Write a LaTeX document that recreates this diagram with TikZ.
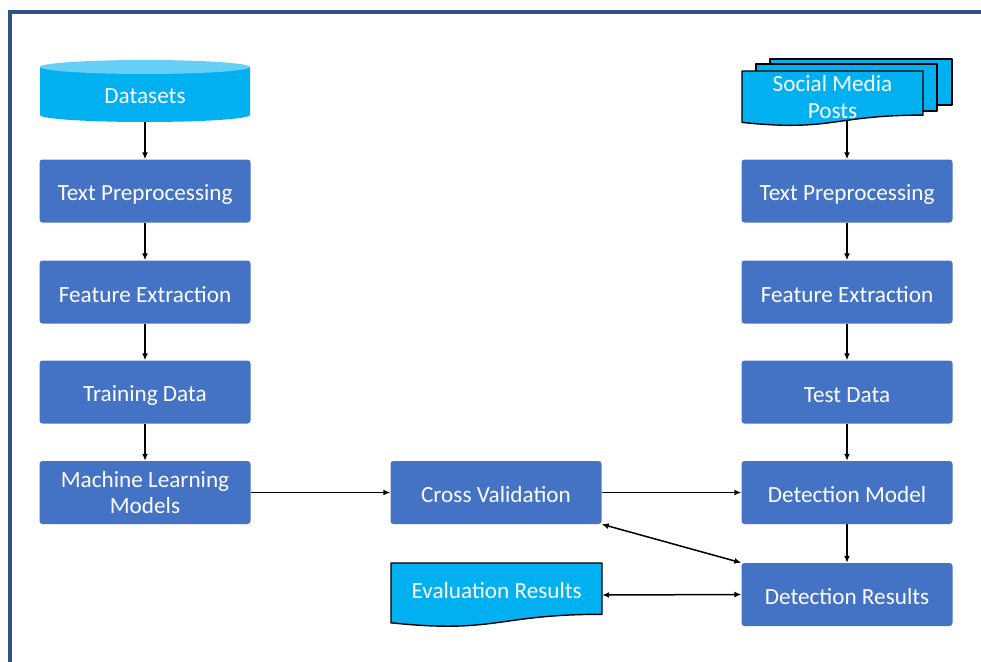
\documentclass[tikz,border=0pt]{standalone}
\usepackage{fontspec}
\setmainfont{Carlito}
\usetikzlibrary{arrows.meta,calc}
\definecolor{boxblue}{HTML}{4472C4}
\definecolor{cyanfill}{HTML}{00B0F0}
\definecolor{cyantop}{HTML}{66CFF5}
\definecolor{frameblue}{HTML}{2E5188}
\begin{document}
\begin{tikzpicture}[x=1pt,y=-1pt,
  txt/.style={text=white, inner sep=0pt, align=center,
    font=\fontsize{23.2}{26.5}\selectfont,
    execute at begin node={\rule{0pt}{23pt}},
    execute at end node={\rule[-3pt]{0pt}{3pt}}},
  procbox/.style={txt, rectangle, rounded corners=3pt, fill=boxblue,
    minimum width=211pt, minimum height=63pt},
  lbl/.style={txt},
  frame/.style={rectangle, inner sep=0pt},
  conn/.style={-{Latex[length=7pt,width=6pt]}, line width=1.5pt},
  dconn/.style={{Latex[length=7pt,width=6pt]}-{Latex[length=7pt,width=6pt]}, line width=1.5pt},
  docline/.style={fill=cyanfill, draw=black, line width=1.4pt, line join=round}
]
\useasboundingbox (0,0) rectangle (981,661);
\fill[white] (0,0) rectangle (981,661);
\draw[frameblue, line width=4pt] (10,700) -- (10,12) -- (1000,12);

% Datasets cylinder
\fill[cyanfill] (40,67) -- (40,115) arc[start angle=180, end angle=360, x radius=105pt, y radius=7pt] -- (250,67) -- cycle;
\fill[cyantop] (145,67) ellipse[x radius=105pt, y radius=7pt];
\node[frame, minimum width=210pt, minimum height=62pt] (ds) at (145,91) {};
\node[lbl] (dslbl) at (145,93.5) {Datasets};

% Social media posts (multi-document)
\draw[docline] (770,59) rectangle (952,105);
\draw[docline] (756,64) rectangle (937,111);
\draw[docline] (742,71) -- (923,71) -- (923,115.1)
  .. controls (832.5,115.1) and (832.5,131.9) .. (742,122.4) -- cycle;
\node[lbl] (smp) at (832.5,98.5) {Social Media\\Posts};
\coordinate (smpout) at (847,120.5);

% Evaluation results (document)
\draw[docline] (391,563) -- (602,563) -- (602,614.3)
  .. controls (496.5,614.3) and (496.5,633.9) .. (391,622.8) -- cycle;
\node[frame, minimum width=211pt, minimum height=64pt] (eval) at (496.5,595) {};
\node[lbl] (evallbl) at (496.7,588.5) {Evaluation Results};

% Process boxes
\node[procbox] (tp1) at (145,191) {Text Preprocessing};
\node[procbox] (fe1) at (145,292) {Feature Extraction};
\node[procbox] (trd) at (145,392) {Training Data};
\node[procbox, text depth=0pt] (ml)  at (145,492.5) {Machine Learning\\Models\rule[-6pt]{0pt}{6pt}};
\node[procbox] (cv)  at (496,492.5) {Cross Validation};
\node[procbox] (tp2) at (847,191) {Text Preprocessing};
\node[procbox] (fe2) at (847,292) {Feature Extraction};
\node[procbox] (ted) at (847,392) {Test Data};
\node[procbox] (dm)  at (847,492.5) {Detection Model};
\node[procbox] (dr)  at (847,594.5) {Detection Results};

% Connectors
\draw[conn] (ds) -- (tp1);
\draw[conn] (tp1) -- (fe1);
\draw[conn] (fe1) -- (trd);
\draw[conn] (trd) -- (ml);
\draw[conn] (ml) -- (cv);
\draw[conn] (cv) -- (dm);
\draw[conn] (smpout) -- (tp2);
\draw[conn] (tp2) -- (fe2);
\draw[conn] (fe2) -- (ted);
\draw[conn] (ted) -- (dm);
\draw[conn] (dm) -- (dr);
\draw[dconn] (cv.south east) -- (dr.north west);
\draw[dconn] (eval.east) -- (dr.west);
\end{tikzpicture}
\end{document}
